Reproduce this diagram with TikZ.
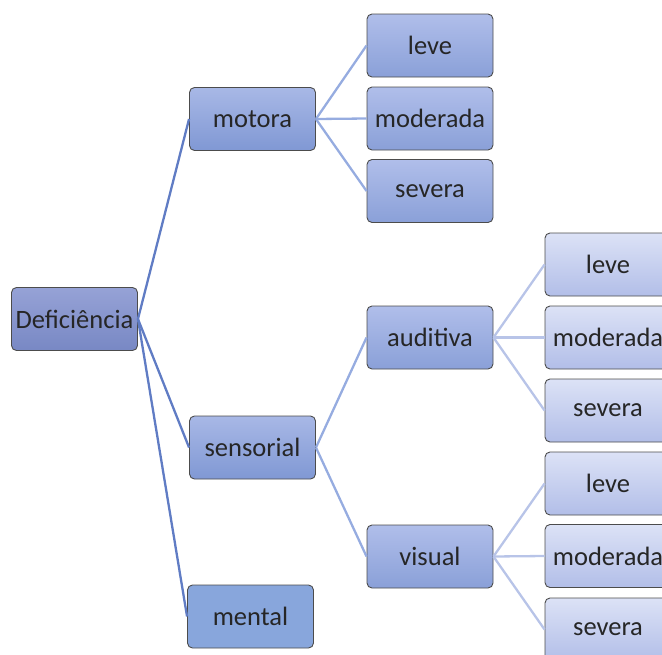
\documentclass[tikz,border=0pt]{standalone}
\usepackage{fontspec}
\setmainfont{Carlito}
\begin{document}
\begin{tikzpicture}[x=1pt,y=-1pt,
  box/.style={draw=black!70,line width=0.9pt,rounded corners=5pt,minimum width=126pt,minimum height=63pt,inner sep=0pt,font=\fontsize{26.5}{30}\selectfont,text=black!85},
  lvA/.style={box,top color={rgb,255:red,150;green,162;blue,214},bottom color={rgb,255:red,120;green,136;blue,196}},
  lvB/.style={box,top color={rgb,255:red,168;green,184;blue,230},bottom color={rgb,255:red,128;green,152;blue,212}},
  lvC/.style={box,top color={rgb,255:red,176;green,190;blue,234},bottom color={rgb,255:red,138;green,160;blue,216}},
  lvD/.style={box,top color={rgb,255:red,220;green,226;blue,246},bottom color={rgb,255:red,178;green,190;blue,232}},
  lvM/.style={box,fill={rgb,255:red,136;green,166;blue,220}},
  e1/.style={draw={rgb,255:red,96;green,124;blue,196},line width=2.3pt},
  e2/.style={draw={rgb,255:red,150;green,172;blue,224},line width=2.3pt},
  e3/.style={draw={rgb,255:red,184;green,196;blue,232},line width=2.3pt}]
\useasboundingbox (0,0) rectangle (662,654);
\begin{scope}
\clip (0,0) rectangle (662,654);
\node[lvA] (def) at (74.5,319) {Deficiência};
\node[lvB] (mot) at (252.5,119) {motora};
\node[lvB] (sen) at (252.5,447.5) {sensorial};
\node[lvM] (men) at (250.5,616.5) {mental};
\node[lvC] (m1) at (430,45.5) {leve};
\node[lvC] (m2) at (430,118.5) {moderada};
\node[lvC] (m3) at (430,191) {severa};
\node[lvC] (aud) at (430,337.5) {auditiva};
\node[lvC] (vis) at (430,556.5) {visual};
\node[lvD] (a1) at (608,264.5) {leve};
\node[lvD] (a2) at (608,337.5) {moderada};
\node[lvD] (a3) at (608,410.5) {severa};
\node[lvD] (v1) at (608,483.5) {leve};
\node[lvD] (v2) at (608,556) {moderada};
\node[lvD] (v3) at (608,629.5) {severa};
\foreach \c in {mot,sen,men} \draw[e1] (def.east) -- (\c.west);
\foreach \c in {m1,m2,m3} \draw[e2] (mot.east) -- (\c.west);
\foreach \c in {aud,vis} \draw[e2] (sen.east) -- (\c.west);
\foreach \c in {a1,a2,a3} \draw[e3] (aud.east) -- (\c.west);
\foreach \c in {v1,v2,v3} \draw[e3] (vis.east) -- (\c.west);
\end{scope}
\end{tikzpicture}
\end{document}
